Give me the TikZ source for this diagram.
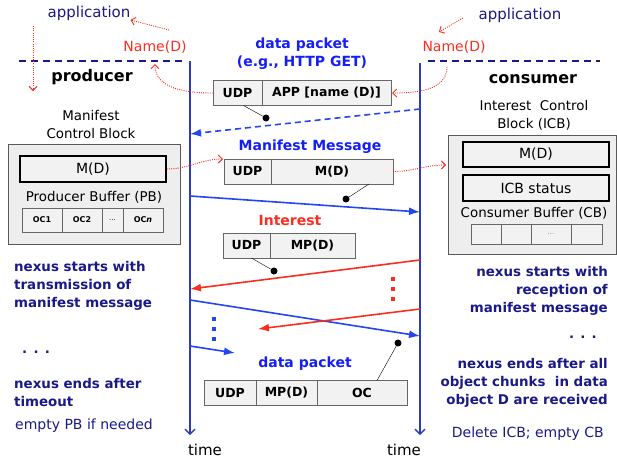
\documentclass[tikz,border=0pt]{standalone}
\usepackage{fontspec}
\setmainfont{DejaVu Sans}
\usetikzlibrary{shapes,arrows,arrows.meta,positioning,calc}
\definecolor{navytext}{RGB}{25,25,135}
\definecolor{brightblue}{RGB}{20,30,245}
\definecolor{arrowblue}{RGB}{35,70,240}
\definecolor{linered}{RGB}{250,45,30}
\definecolor{timeblue}{RGB}{45,60,185}
\definecolor{boxgray}{RGB}{242,242,242}
\definecolor{blockgray}{RGB}{238,238,238}

\begin{document}
\begin{tikzpicture}[x=1pt, y=-1pt,
    field/.style={draw=gray!80!black, fill=boxgray, minimum height=25pt, inner sep=0pt, outer sep=0pt, font=\fontsize{12.5}{14}\selectfont\bfseries},
    cell/.style={draw=gray!80!black, fill=boxgray, minimum height=24pt, inner sep=0pt, outer sep=0pt, font=\fontsize{8}{10}\selectfont\bfseries},
    block/.style={draw=gray!70!black, fill=blockgray, inner sep=0pt},
    inner/.style={draw=black, line width=1.6pt, fill=boxgray, minimum width=146pt, inner sep=0pt, font=\fontsize{14}{16}\selectfont},
    plain/.style={inner sep=0pt, align=center, font=\fontsize{13.4}{18}\selectfont},
    pktlabel/.style={inner sep=0pt, align=center, text=brightblue, font=\fontsize{14}{18}\selectfont\bfseries},
    navynote/.style={inner sep=0pt, text=navytext, font=\fontsize{13.4}{18}\selectfont\bfseries},
    navyplain/.style={inner sep=0pt, text=navytext, font=\fontsize{14}{18}\selectfont},
    namelabel/.style={inner sep=0pt, text=linered, font=\fontsize{14}{16}\selectfont},
    namearrow/.style={linered, dash pattern=on 1pt off 1.2pt, line width=0.9pt, -{Straight Barb[length=4pt,width=8pt]}},
    timeline/.style={timeblue, line width=1.3pt, -{Straight Barb[length=5pt,width=10pt]}},
    msgarrow/.style={line width=1.6pt, -{Latex[length=11pt,width=8pt]}},
    dot/.style={circle, fill=black, inner sep=0pt, minimum size=7pt}]

    \useasboundingbox (0,0) rectangle (617,461);

    % Applications and names
    \node[navyplain, font=\fontsize{15}{18}\selectfont] (appL) at (89,13) {application};
    \node[navyplain, font=\fontsize{15}{18}\selectfont] (appR) at (520,15) {application};
    \node[namelabel] (nameL) at (155,47) {Name(D)};
    \node[namelabel] (nameR) at (454,47) {Name(D)};

    \coordinate (nameLtail) at (169,30);
    \coordinate (nameLtip) at (155,64);
    \coordinate (appDownA) at (33,26);
    \coordinate (appDownB) at (33,91);
    \coordinate (nameRtail) at (463,18);
    \coordinate (nameRtip) at (439,32);
    \coordinate (nameRfoot) at (447,67);
    \coordinate (icbIn) at (446,165);

    % Hosts
    \draw[navytext, line width=2pt, dash pattern=on 7pt off 5pt] (19,61) -- (185,61);
    \draw[navytext, line width=2pt, dash pattern=on 7pt off 5pt] (428,61) -- (600,61);
    \node[inner sep=0pt, font=\fontsize{16}{18}\selectfont\bfseries] (producer) at (92,77) {producer};
    \node[inner sep=0pt, font=\fontsize{16}{18}\selectfont\bfseries] (consumer) at (533,79) {consumer};

    % Timelines
    \coordinate (pTop) at (190,61);
    \coordinate (pEnd) at (190,435);
    \coordinate (cTop) at (420,63);
    \coordinate (cEnd) at (420,435);
    \draw[timeline] (pTop) -- (pEnd);
    \draw[timeline] (cTop) -- (cEnd);
    \node[plain, font=\fontsize{15}{18}\selectfont] (timeP) at (205,450) {time};
    \node[plain, font=\fontsize{15}{18}\selectfont] (timeC) at (404,450) {time};

    % Manifest control block
    \node[plain] (mcbTitle) at (91,124) {Manifest\\Control Block};
    \node[block, minimum width=172pt, minimum height=100pt] (mcb) at (94,194) {};
    \node[inner, minimum height=26pt] (mdP) at (93,169) {M(D)};
    \node[plain] (pbTitle) at (94,197) {Producer Buffer (PB)};
    \node[cell, minimum width=40pt] (oc1) at (42,220) {OC1};
    \node[cell, minimum width=40pt, right=0pt of oc1] (oc2) {OC2};
    \node[cell, minimum width=21pt, right=0pt of oc2, font=\fontsize{7}{8}\selectfont] (ocdots) {...};
    \node[cell, minimum width=40pt, right=0pt of ocdots] (ocn) {OC\textit{n}};

    % Interest control block
    \node[plain] (icbTitle) at (534,115) {Interest~~Control\\Block (ICB)};
    \node[block, minimum width=168pt, minimum height=119pt] (icb) at (532,194.5) {};
    \node[inner, minimum height=25pt] (mdC) at (536,154.5) {M(D)};
    \node[inner, minimum height=26pt] (icbStat) at (536,188) {ICB status};
    \node[plain] (cbTitle) at (534,213) {Consumer Buffer (CB)};
    \node[cell, minimum width=30pt, minimum height=20pt] (cb1) at (486,234) {};
    \node[cell, minimum width=30pt, minimum height=20pt, right=0pt of cb1] (cb2) {};
    \node[cell, minimum width=40pt, minimum height=20pt, right=0pt of cb2, font=\fontsize{7}{8}\selectfont, text=gray] (cb3) {...};
    \node[cell, minimum width=31pt, minimum height=20pt, right=0pt of cb3] (cb4) {};

    % Data packet (request)
    \node[pktlabel] (getLabel) at (302,54) {data packet\\(e.g., HTTP GET)};
    \node[field, minimum width=49pt] (udpA) at (237.5,93) {UDP};
    \node[field, minimum width=129pt, right=0pt of udpA] (appA) {APP [name (D)]};
    \node[dot] (dotA) at (266,118) {};
    \draw[thin] ([xshift=6pt]udpA.south) -- (dotA);

    % Manifest message
    \node[pktlabel] (mmLabel) at (310,147) {Manifest Message};
    \node[field, minimum width=47pt] (udpB) at (247.5,171.5) {UDP};
    \node[field, minimum width=122pt, right=0pt of udpB] (mdB) {M(D)};
    \node[dot] (dotB) at (346,199) {};
    \draw[thin] ([xshift=37pt]mdB.south) -- (dotB);

    % Interest
    \node[pktlabel, text=linered] (intLabel) at (290,220) {Interest};
    \node[field, minimum width=47pt] (udpC) at (246.5,245.5) {UDP};
    \node[field, minimum width=85pt, right=0pt of udpC] (mpC) {MP(D)};
    \node[dot] (dotC) at (274,271) {};
    \draw[thin] ([xshift=5pt]udpC.south) -- (dotC);

    % Data packet (chunk)
    \node[pktlabel] (dataLabel) at (305,364) {data packet};
    \node[field, minimum width=52pt] (udpD) at (230,393) {UDP};
    \node[field, minimum width=61pt, right=0pt of udpD] (mpD) {MP(D)};
    \node[field, minimum width=90pt, right=0pt of mpD] (ocD) {OC};
    \node[dot] (dotD) at (398,343) {};
    \draw[thin] ([xshift=15pt]ocD.north) -- (dotD);

    % Name flows
    \draw[namearrow] (nameLtail) -- ([yshift=-7pt]appL.east);
    \draw[namearrow] (appDownA) -- (appDownB);
    \draw[namearrow] (nameRtail) -- (nameRtip);
    \draw[namearrow] (udpA.west) to[out=180, in=-90] (nameLtip);
    \draw[namearrow] (nameRfoot) to[out=-90, in=0] ([xshift=1pt]appA.east);
    \draw[namearrow] (mdP.east) to[out=0, in=180] ([xshift=-1pt]udpB.north west);
    \draw[namearrow] (mdB.east) to[out=0, in=180] (icbIn);

    % Message exchange
    \coordinate (c1) at (420,109);  \coordinate (p1) at (190,134);
    \coordinate (p2) at (190,196);  \coordinate (c2) at (420,212);
    \coordinate (c3) at (420,260);  \coordinate (p3) at (190,289);
    \coordinate (p4) at (190,300);  \coordinate (c4) at (420,336);
    \coordinate (c5) at (420,309);  \coordinate (m5) at (258,329);
    \coordinate (p6) at (190,346);  \coordinate (m6) at (235,353);
    \draw[msgarrow, arrowblue, dash pattern=on 6pt off 4pt] (c1) -- (p1);
    \draw[msgarrow, arrowblue] (p2) -- (c2);
    \draw[msgarrow, linered] (c3) -- (p3);
    \draw[msgarrow, arrowblue] (p4) -- (c4);
    \draw[msgarrow, linered] (c5) -- (m5);
    \draw[msgarrow, arrowblue] (p6) -- (m6);
    \foreach \y in {277,287,297}
        \fill[linered] (391,\y) rectangle +(3.5,3.5);
    \foreach \y in {317,327,337}
        \fill[arrowblue] (212,\y) rectangle +(3.5,3.5);

    % Producer notes
    \node[navynote, anchor=west, align=left] (pStart) at (14,286) {nexus starts with\\transmission of\\manifest message};
    \node[navynote, anchor=west] (pDots) at (22,352) {. . .};
    \node[navynote, anchor=west, align=left] (pEndNote) at (14,392) {nexus ends after\\timeout};
    \node[navyplain, anchor=west] (pEmpty) at (15,426) {empty PB if needed};

    % Consumer notes
    \node[navynote, anchor=east, align=right] (cStart) at (608,291) {nexus starts with\\reception of\\manifest message};
    \node[navynote, anchor=east] (cDots) at (597,337) {. . .};
    \node[navynote, anchor=east, align=right] (cEndNote) at (608,383) {nexus ends after all\\object chunks~~in data\\object D are received};
    \node[navyplain, anchor=east] (cDelete) at (604,434) {Delete ICB; empty CB};
\end{tikzpicture}
\end{document}
